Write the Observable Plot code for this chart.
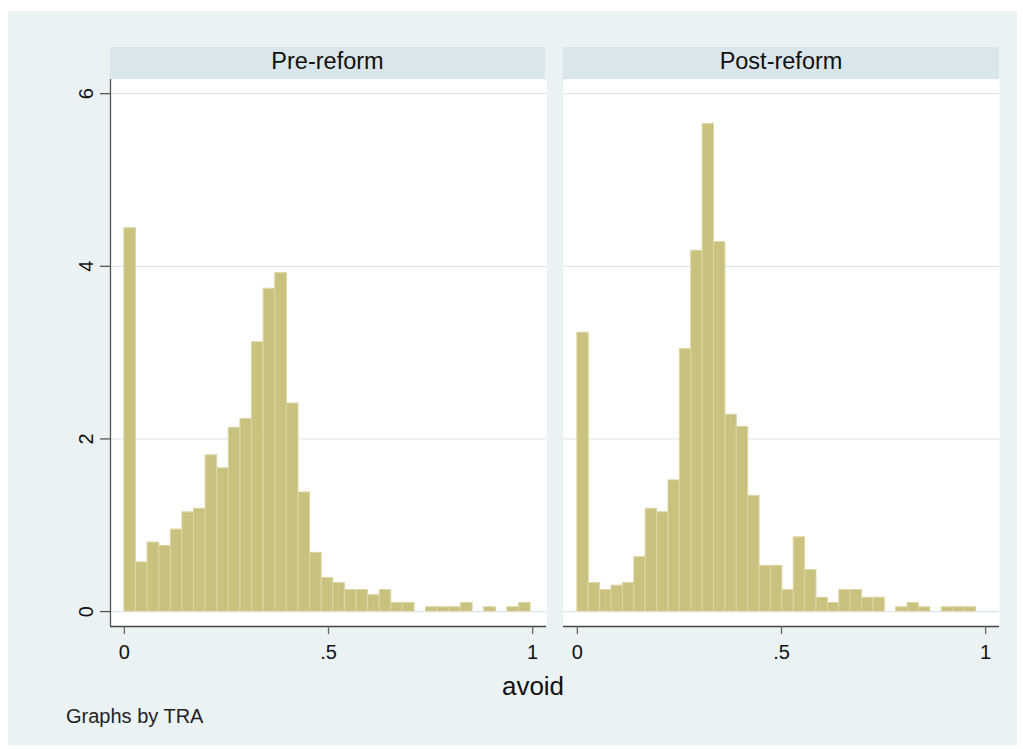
<!DOCTYPE html>
<html>
<head>
<meta charset="utf-8">
<script src="https://cdn.jsdelivr.net/npm/d3@7"></script>
<script src="https://cdn.jsdelivr.net/npm/@observablehq/plot@0.6"></script>
<style>
  body { margin: 0; background: #ffffff; font-family: "Liberation Sans", Arial, sans-serif; }
  #bg { position: absolute; left: 8px; top: 11px; width: 1009px; height: 734px; background: #eaf2f3; }
  .strip { position: absolute; top: 47px; height: 32px; background: #d9e6eb; text-align: center;
           font-size: 23.5px; line-height: 28px; color: #111; }
  .panel { position: absolute; top: 79px; }
  .panel svg { background: transparent; overflow: visible; }
  #xlabel { position: absolute; left: 433px; width: 200px; top: 673px; text-align: center;
            font-size: 26px; line-height: 26px; color: #111; }
  #note { position: absolute; left: 66px; top: 706px; font-size: 20px; line-height: 20px; color: #222; }
</style>
</head>
<body>
<div id="bg"></div>
<div class="strip" id="s1" style="left:110px;width:435px;"></div>
<div class="strip" id="s2" style="left:563px;width:436px;"></div>
<div class="panel" id="p1" style="left:0px;"></div>
<div class="panel" id="p2" style="left:554px;"></div>
<div id="xlabel"></div>
<div id="note"></div>
<script>
// ---- data (density per bin) ----
const panelTitles = ["Pre-reform", "Post-reform"];
const preValues = [4.44, 0.57, 0.80, 0.76, 0.95, 1.15, 1.19, 1.81, 1.66, 2.13, 2.23, 3.12, 3.74, 3.92, 2.41,
                   1.38, 0.68, 0.39, 0.33, 0.25, 0.25, 0.19, 0.25, 0.10, 0.10, 0, 0.05, 0.05, 0.05, 0.10,
                   0, 0.05, 0, 0.05, 0.10];
const postValues = [3.23, 0.33, 0.25, 0.30, 0.33, 0.63, 1.19, 1.15, 1.52, 3.04, 4.18, 5.65, 4.28, 2.28, 2.14,
                    1.34, 0.53, 0.53, 0.25, 0.86, 0.48, 0.16, 0.10, 0.25, 0.25, 0.16, 0.16, 0, 0.05, 0.10,
                    0.05, 0, 0.05, 0.05, 0.05];
const preBinWidth = 0.02843;
const postBinWidth = 0.02789;
const xTicks = [0, 0.5, 1];
const xTickLabels = ["0", ".5", "1"];
const yTicks = [0, 2, 4, 6];
const yTickLabels = ["0", "2", "4", "6"];
const xTitle = "avoid";
const noteText = "Graphs by TRA";

const xDomain = [-0.034, 1.034];
const yDomain = [-0.173, 6.164];

function panel(values, binWidth, showY, width, ml, mr) {
  const data = values.map((v, i) => ({x1: i * binWidth, x2: (i + 1) * binWidth, v}));
  return Plot.plot({
    width, height: 590,
    marginLeft: ml, marginRight: mr, marginTop: 0, marginBottom: 43,
    style: {background: "transparent", fontFamily: "'Liberation Sans', Arial, sans-serif", fontSize: "20px", color: "#222", overflow: "visible"},
    x: {domain: xDomain, axis: null},
    y: {domain: yDomain, axis: null},
    marks: [
      Plot.frame({fill: "white", stroke: null}),
      Plot.gridY(yTicks, {stroke: "#dde8ec", strokeOpacity: 1, strokeWidth: 1.3}),
      Plot.rectY(data, {x1: "x1", x2: "x2", y: "v", fill: "#c9c27e", stroke: "#dbd6a3", strokeWidth: 1}),
      Plot.ruleY([yDomain[0]], {stroke: "#444", strokeWidth: 1.3}),
      showY ? Plot.ruleX([xDomain[0]], {stroke: "#555", strokeWidth: 1.3}) : null,
      Plot.axisX({ticks: xTicks, tickFormat: d => xTickLabels[xTicks.indexOf(d)], tickSize: 8, tickPadding: 10,
                  label: null, stroke: "#666", fill: "#111", strokeWidth: 1.3}),
      showY ? Plot.axisY({ticks: yTicks, tickFormat: d => yTickLabels[yTicks.indexOf(d)], tickSize: 10, tickRotate: -90,
                  tickPadding: 8, label: null, stroke: "#555", fill: "#111", strokeWidth: 1.3}) : null
    ]
  });
}

document.getElementById("s1").textContent = panelTitles[0];
document.getElementById("s2").textContent = panelTitles[1];
document.getElementById("p1").appendChild(panel(preValues, preBinWidth, true, 554, 110, 8));
document.getElementById("p2").appendChild(panel(postValues, postBinWidth, false, 469, 9, 24));
document.getElementById("xlabel").textContent = xTitle;
document.getElementById("note").textContent = noteText;
</script>
</body>
</html>
